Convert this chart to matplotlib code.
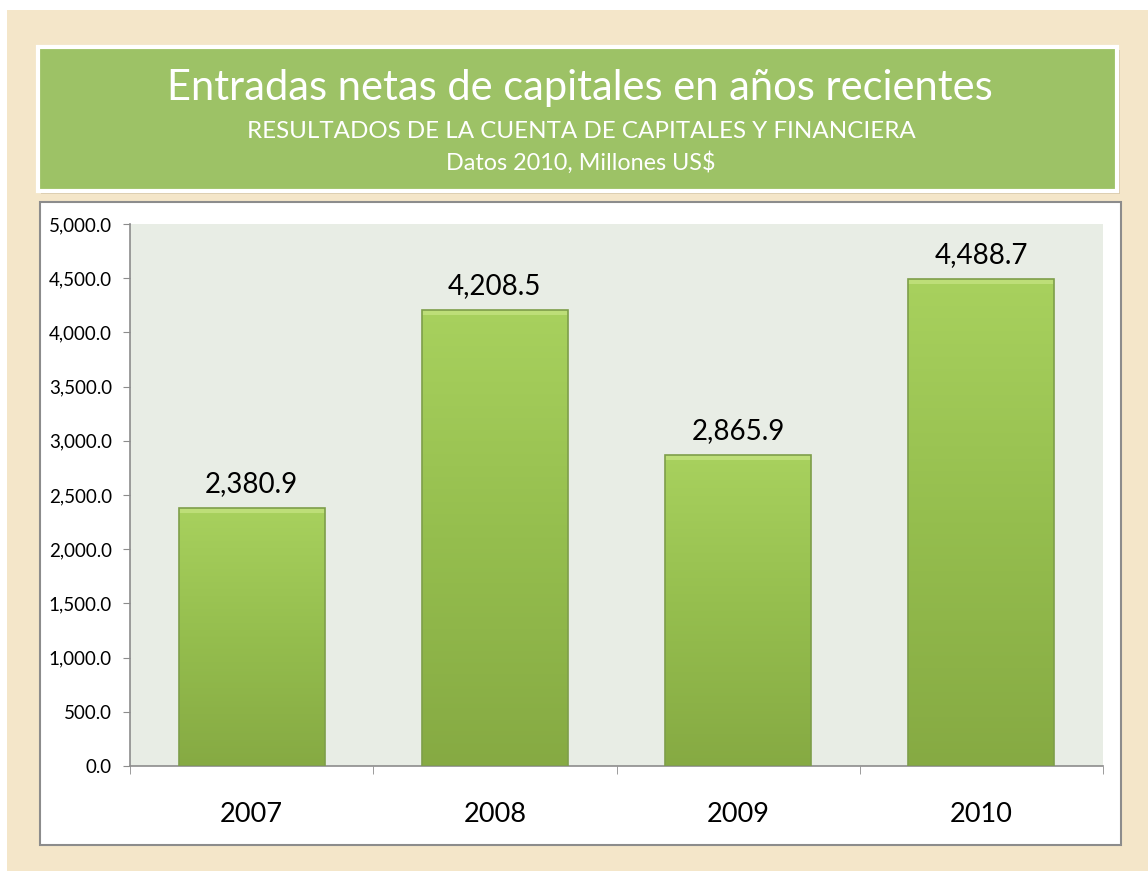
import numpy as np
import matplotlib
matplotlib.use("Agg")
import matplotlib.pyplot as plt
from matplotlib.patches import Rectangle
from matplotlib.colors import LinearSegmentedColormap

# data
years  = ['2007', '2008', '2009', '2010']
values = [2380.9, 4208.5, 2865.9, 4488.7]
yticks = [0, 500, 1000, 1500, 2000, 2500, 3000, 3500, 4000, 4500, 5000]

title    = 'Entradas netas de capitales en años recientes'
subtitle = 'RESULTADOS DE LA CUENTA DE CAPITALES Y FINANCIERA'
note     = 'Datos 2010, Millones US$'

plt.rcParams['font.family'] = ['Lato', 'DejaVu Sans']

W, H = 1148, 871
fig = plt.figure(figsize=(W / 100, H / 100), dpi=100)
fig.patch.set_facecolor('#F4E6C9')

def fx(px):
    return px / W

def fy(py):
    return 1 - py / H

# white strips at top and left of the slide scan
fig.patches.append(Rectangle((0, fy(10)), 1, 1 - fy(10), transform=fig.transFigure,
                             facecolor='white', edgecolor='none', zorder=0))
fig.patches.append(Rectangle((0, 0), fx(7), 1, transform=fig.transFigure,
                             facecolor='white', edgecolor='none', zorder=0))

# title banner (shadow, white frame, green fill)
fig.patches.append(Rectangle((fx(41), fy(194)), fx(1120) - fx(41), fy(50) - fy(194),
                             transform=fig.transFigure, facecolor='#C9B99A',
                             edgecolor='none', alpha=0.6, zorder=1))
fig.patches.append(Rectangle((fx(38), fy(191)), fx(1117) - fx(38), fy(47) - fy(191),
                             transform=fig.transFigure, facecolor='#9DC266',
                             edgecolor='white', linewidth=3, zorder=2))
fig.text(fx(580), fy(88), title, color='white', fontsize=30, ha='center', va='center')
fig.text(fx(581), fy(132), subtitle, color='white', fontsize=17.4, ha='center', va='center')
fig.text(fx(581), fy(163), note, color='white', fontsize=16.8, ha='center', va='center')

# chart frame
fig.patches.append(Rectangle((fx(40), fy(845)), fx(1121) - fx(40), fy(202) - fy(845),
                             transform=fig.transFigure, facecolor='white',
                             edgecolor='#8C8C8C', linewidth=1.5, zorder=1))

ax = fig.add_axes([fx(130), fy(766), fx(1103) - fx(130), fy(224) - fy(766)])
ax.set_facecolor('#E8EDE5')
ax.set_zorder(3)

x = np.arange(len(years))
bars = ax.bar(x, values, width=0.6, color='none', edgecolor='#7E9E4A', linewidth=1.2, zorder=3)

# vertical gradient inside each bar
cmap = LinearSegmentedColormap.from_list('grn', ['#86AA43', '#95BE4E', '#A8D15E'])
grad = np.linspace(0, 1, 256).reshape(-1, 1)
for b in bars:
    x0, w, h = b.get_x(), b.get_width(), b.get_height()
    im = ax.imshow(grad, cmap=cmap, origin='lower', aspect='auto',
                   extent=[x0, x0 + w, 0, h], zorder=2)
    im.set_clip_path(b)
    # light bevel at the top
    ax.add_patch(Rectangle((x0, h - 45), w, 45, facecolor='#C3E27F',
                           edgecolor='none', alpha=0.8, zorder=2.5))

for xi, v in zip(x, values):
    ax.annotate(f'{v:,.1f}', (xi, v), xytext=(0, 8), textcoords='offset points',
                ha='center', va='bottom', fontsize=20, color='black')

ax.set_xlim(-0.5, len(years) - 0.5)
ax.set_ylim(0, 5000)
ax.set_yticks(yticks)
ax.set_yticklabels([f'{t:,.1f}' for t in yticks], fontsize=13.5)
ax.set_xticks(x)
ax.set_xticklabels(years, fontsize=19.5)
ax.set_xticks(np.arange(-0.5, len(years)), minor=True)
ax.tick_params(axis='x', which='major', length=0, pad=26)
ax.tick_params(axis='x', which='minor', length=6, color='#8C8C8C', direction='out')
ax.tick_params(axis='y', length=5, color='#8C8C8C', pad=8)

for s in ['top', 'right']:
    ax.spines[s].set_visible(False)
for s in ['left', 'bottom']:
    ax.spines[s].set_color('#8C8C8C')
    ax.spines[s].set_linewidth(1.2)

fig.savefig('out.png', dpi=100, facecolor=fig.get_facecolor())
